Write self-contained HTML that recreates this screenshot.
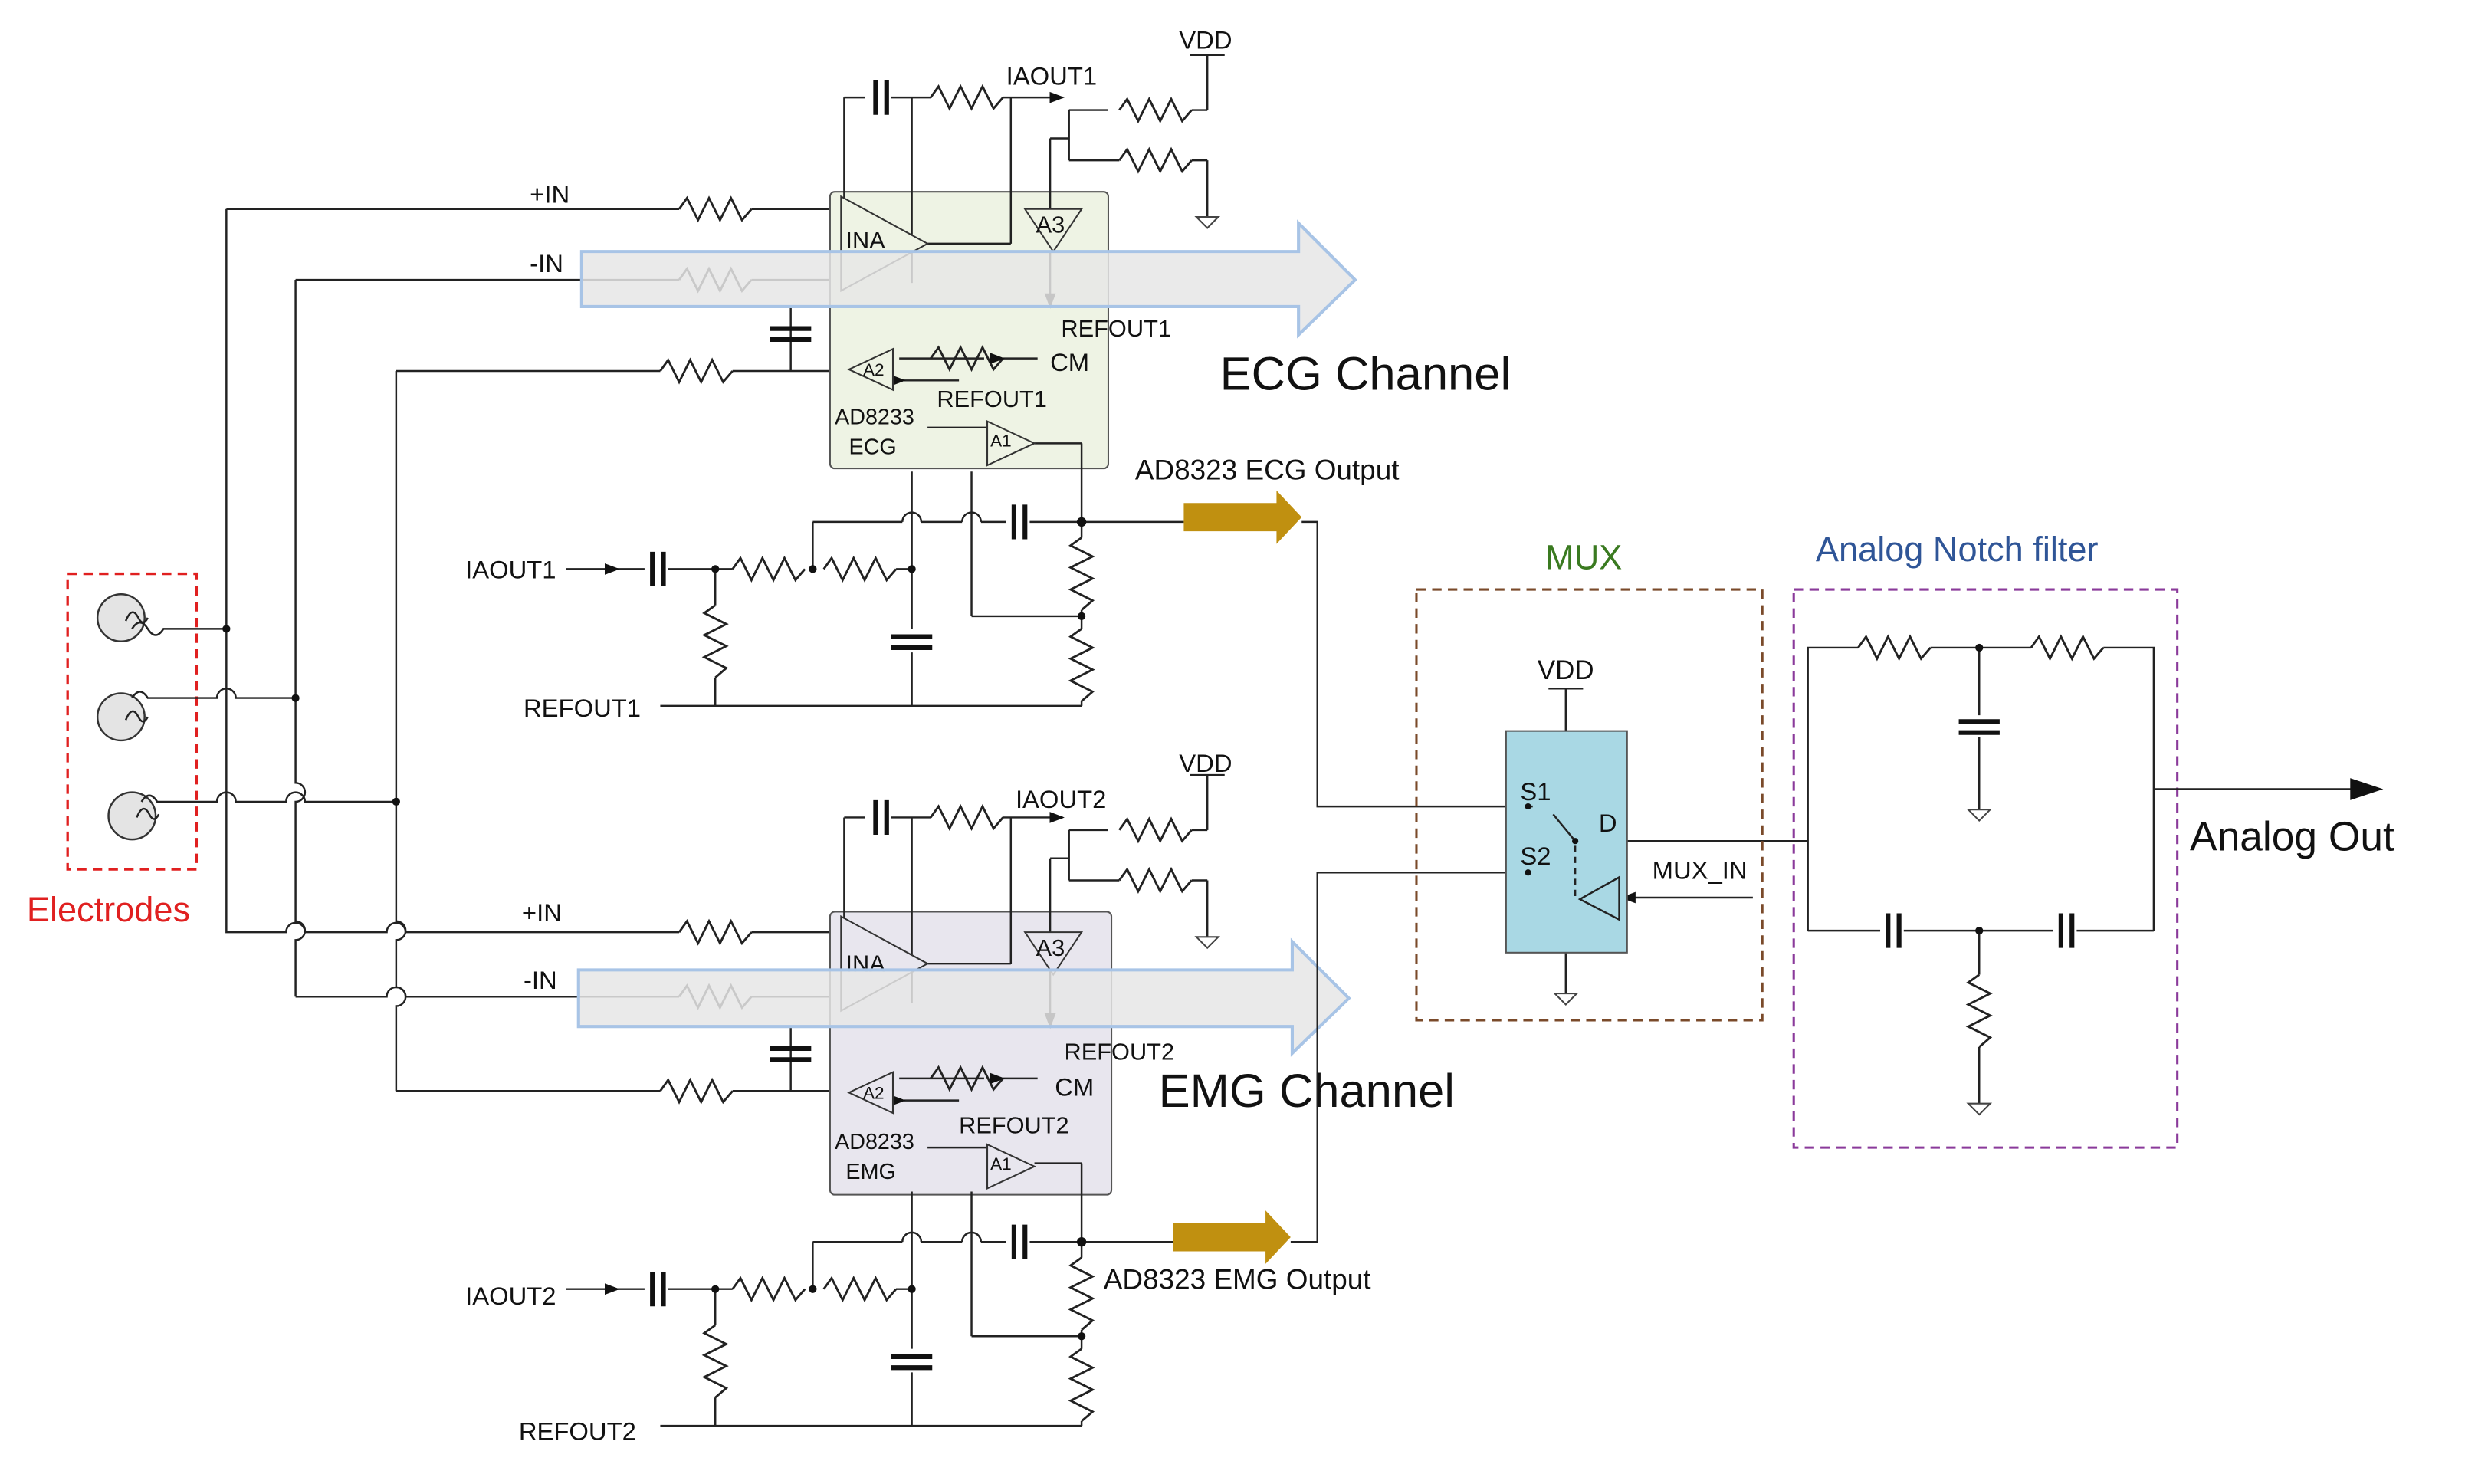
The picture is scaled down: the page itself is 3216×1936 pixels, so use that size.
<!DOCTYPE html>
<html><head><meta charset="utf-8"><style>
html,body{margin:0;padding:0;background:#fff;}
svg{display:block;}
text{font-family:"Liberation Sans",Arial,sans-serif;fill:#111;}
</style></head><body>
<svg width="3216" height="1936" viewBox="0 0 1568 944" preserveAspectRatio="none" xmlns="http://www.w3.org/2000/svg">
<defs>
<path id="rh" d="M0,0 l5,-7 l7,14 l7,-14 l7,14 l7,-14 l7,14 l6,-7" fill="none" stroke="#222" stroke-width="1.4"/>
<path id="rv" d="M0,0 l-7,5 l14,7 l-14,7 l14,7 l-14,7 l14,7 l-7,6" fill="none" stroke="#222" stroke-width="1.4"/>
<g id="ch"><line x1="-3" y1="-11" x2="-3" y2="11" stroke="#111" stroke-width="3"/><line x1="4" y1="-11" x2="4" y2="11" stroke="#111" stroke-width="3"/></g>
<g id="cv"><line x1="-13" y1="-3" x2="13" y2="-3" stroke="#111" stroke-width="3"/><line x1="-13" y1="4" x2="13" y2="4" stroke="#111" stroke-width="3"/></g>
<path id="gnd" d="M-7,0 h14 l-7,7 z" fill="#fff" stroke="#444" stroke-width="1"/>
<marker id="ar" markerWidth="8" markerHeight="8" refX="7" refY="4" orient="auto"><path d="M0,1 L8,4 L0,7 z" fill="#111"/></marker>
<g id="ecgc" stroke="#222" stroke-width="1.2" fill="none">
 <line x1="537" y1="62" x2="550" y2="62"/><use href="#ch" x="560" y="62"/><line x1="567" y1="62" x2="592" y2="62"/><use href="#rh" x="592" y="62"/><line x1="638" y1="62" x2="676" y2="62" marker-end="url(#ar)"/>
 <line x1="537" y1="62" x2="537" y2="132"/><line x1="580" y1="62" x2="580" y2="180"/>
 <line x1="590" y1="155" x2="643" y2="155"/><line x1="643" y1="155" x2="643" y2="62"/>
 <line x1="680" y1="70" x2="705" y2="70"/><use href="#rh" x="712" y="70"/><line x1="758" y1="70" x2="768" y2="70"/>
 <line x1="768" y1="35" x2="768" y2="70"/><line x1="757" y1="35" x2="779" y2="35"/>
 <line x1="680" y1="70" x2="680" y2="102"/><line x1="680" y1="102" x2="712" y2="102"/><use href="#rh" x="712" y="102"/><line x1="758" y1="102" x2="768" y2="102"/><line x1="768" y1="102" x2="768" y2="138"/>
 <line x1="668" y1="88" x2="680" y2="88"/><line x1="668" y1="88" x2="668" y2="135"/>
 <line x1="668" y1="160" x2="668" y2="195" marker-end="url(#ar)"/>
 <line x1="592" y1="228" x2="626" y2="228"/><use href="#rh" x="592" y="228"/><line x1="638" y1="228" x2="660" y2="228" marker-start="url(#ar)"/>
 <line x1="572" y1="228" x2="592" y2="228"/>
 <line x1="575" y1="242" x2="610" y2="242" marker-start="url(#ar)"/>
 <line x1="503" y1="195" x2="580" y2="195"/><line x1="503" y1="195" x2="503" y2="236"/><use href="#cv" x="503" y="212"/>
 <line x1="590" y1="272" x2="628" y2="272"/><line x1="658" y1="282" x2="688" y2="282"/><line x1="688" y1="282" x2="688" y2="332"/>
 <line x1="393" y1="362" x2="410" y2="362" marker-start="url(#ar)"/>
 <line x1="360" y1="362" x2="393" y2="362" marker-end="url(#ar)"/>
 <use href="#ch" x="418" y="362"/><line x1="425" y1="362" x2="466" y2="362"/>
 <use href="#rh" x="466" y="362"/><use href="#rh" x="524" y="362"/><line x1="570" y1="362" x2="580" y2="362"/>
 <line x1="455" y1="362" x2="455" y2="385"/><use href="#rv" x="455" y="385"/><line x1="455" y1="431" x2="455" y2="449"/>
 <line x1="517" y1="362" x2="517" y2="332"/><line x1="517" y1="332" x2="574" y2="332"/><path d="M574,332 a6,6 0 0 1 12,0"/><line x1="586" y1="332" x2="612" y2="332"/><path d="M612,332 a6,6 0 0 1 12,0"/><line x1="624" y1="332" x2="640" y2="332"/><use href="#ch" x="648" y="332"/><line x1="655" y1="332" x2="753" y2="332"/>
 <line x1="580" y1="300" x2="580" y2="400"/><use href="#cv" x="580" y="408"/><line x1="580" y1="415" x2="580" y2="449"/>
 <line x1="618" y1="300" x2="618" y2="392"/><line x1="618" y1="392" x2="688" y2="392"/>
 <line x1="688" y1="332" x2="688" y2="342"/><use href="#rv" x="688" y="342"/><line x1="688" y1="388" x2="688" y2="400"/><use href="#rv" x="688" y="400"/><line x1="688" y1="446" x2="688" y2="449"/>
 <line x1="420" y1="449" x2="688" y2="449"/>
</g>
</defs>

<rect x="43" y="365" width="82" height="188" fill="none" stroke="#e02020" stroke-width="1.6" stroke-dasharray="6,4"/>
<g stroke="#333" stroke-width="1.2" fill="#e4e4e4">
<circle cx="77" cy="393" r="15"/><circle cx="77" cy="456" r="15"/><circle cx="84" cy="519" r="15"/>
</g>
<g stroke="#222" stroke-width="1.2" fill="none">
<path d="M80,395 q4,-10 8,-2 q3,6 6,0"/><path d="M80,458 q4,-10 8,-2 q3,6 6,0"/><path d="M87,520 q4,-10 8,-2 q3,6 6,0"/>
<path d="M84,400 q5,-8 10,0 t10,0 h40"/>
<path d="M84,444 q5,-8 10,0 h44 a6,6 0 0 1 12,0 h38"/>
<path d="M90,510 q5,-8 10,0 h38 a6,6 0 0 1 12,0 h32 a6,6 0 0 1 12,0 h58"/>
<line x1="144" y1="133" x2="144" y2="580"/>
<path d="M188,178 V498 a6,6 0 0 1 0,12 V586 a6,6 0 0 1 0,12 V634"/>
<path d="M252,236 V586 a6,6 0 0 1 0,12 V628 a6,6 0 0 1 0,12 V694"/>
<line x1="144" y1="133" x2="432" y2="133"/><use href="#rh" x="432" y="133"/><line x1="478" y1="133" x2="536" y2="133"/>
<line x1="188" y1="178" x2="432" y2="178"/><use href="#rh" x="432" y="178"/><line x1="478" y1="178" x2="536" y2="178"/>
<line x1="252" y1="236" x2="420" y2="236"/><use href="#rh" x="420" y="236"/><line x1="466" y1="236" x2="540" y2="236"/>
<path d="M144,580 V593 H182 a6,6 0 0 1 12,0 H246 a6,6 0 0 1 12,0 H432"/><use href="#rh" x="432" y="593"/><line x1="478" y1="593" x2="536" y2="593"/>
<path d="M188,634 H246 a6,6 0 0 1 12,0 H432"/><use href="#rh" x="432" y="634"/><line x1="478" y1="634" x2="536" y2="634"/>
<line x1="252" y1="694" x2="420" y2="694"/><use href="#rh" x="420" y="694"/><line x1="466" y1="694" x2="540" y2="694"/>
</g>
<g fill="#111"><circle cx="144" cy="400" r="2.5"/><circle cx="188" cy="444" r="2.5"/><circle cx="252" cy="510" r="2.5"/></g>
<text x="17" y="586" font-size="22" style="fill:#e02020">Electrodes</text>

<rect x="528" y="122" width="177" height="176" rx="3" fill="#eef3e4" stroke="#555" stroke-width="1"/>
<use href="#ecgc"/>
<g stroke="#333" stroke-width="1" fill="#eef3e4">
<path d="M535,125 L590,155 L535,185 z"/>
<path d="M652,133 L688,133 L670,160 z"/>
<path d="M568,222 L568,248 L540,235 z"/>
<path d="M628,268 L658,282 L628,296 z"/>
</g>
<g font-size="15"><text x="538" y="158">INA</text><text x="659" y="148">A3</text><text x="549" y="239" font-size="11">A2</text><text x="630" y="284" font-size="11">A1</text>
<text x="531" y="270" font-size="14">AD8233</text><text x="540" y="289" font-size="14">ECG</text>
<text x="640" y="54" font-size="16">IAOUT1</text><text x="750" y="31" font-size="16">VDD</text>
<text x="337" y="129" font-size="16">+IN</text><text x="337" y="173" font-size="16">-IN</text>
<text x="675" y="214" font-size="15">REFOUT1</text><text x="668" y="236" font-size="16">CM</text><text x="596" y="259" font-size="15">REFOUT1</text>
<text x="296" y="368" font-size="16">IAOUT1</text><text x="333" y="456" font-size="16">REFOUT1</text>
<text x="722" y="305" font-size="18">AD8323 ECG Output</text></g>
<use href="#gnd" x="768" y="138"/>

<rect x="528" y="580" width="179" height="180" rx="3" fill="#e8e6ee" stroke="#555" stroke-width="1"/>
<use href="#ecgc" y="458"/>
<g stroke="#333" stroke-width="1" fill="#e8e6ee">
<path d="M535,583 L590,613 L535,643 z"/>
<path d="M652,593 L688,593 L670,620 z"/>
<path d="M568,682 L568,708 L540,695 z"/>
<path d="M628,728 L658,742 L628,756 z"/>
</g>
<g font-size="15"><text x="538" y="618">INA</text><text x="659" y="608">A3</text><text x="549" y="699" font-size="11">A2</text><text x="630" y="744" font-size="11">A1</text>
<text x="531" y="731" font-size="14">AD8233</text><text x="538" y="750" font-size="14">EMG</text>
<text x="646" y="514" font-size="16">IAOUT2</text><text x="750" y="491" font-size="16">VDD</text>
<text x="332" y="586" font-size="16">+IN</text><text x="333" y="629" font-size="16">-IN</text>
<text x="677" y="674" font-size="15">REFOUT2</text><text x="671" y="697" font-size="16">CM</text><text x="610" y="721" font-size="15">REFOUT2</text>
<text x="296" y="830" font-size="16">IAOUT2</text><text x="330" y="916" font-size="16">REFOUT2</text>
<text x="702" y="820" font-size="18">AD8323 EMG Output</text></g>
<use href="#gnd" x="768" y="596"/>

<path d="M370,160 H826 V142 L862,178 L826,213 V195 H370 z" fill="#e6e6e6" fill-opacity="0.85" stroke="#a8c4e6" stroke-width="2"/>
<path d="M368,617 H822 V599 L858,635 L822,670 V653 H368 z" fill="#e6e6e6" fill-opacity="0.85" stroke="#a8c4e6" stroke-width="2"/>
<text x="776" y="248" font-size="30">ECG Channel</text>
<text x="737" y="704" font-size="30">EMG Channel</text>

<path d="M753,320 H812 V312 L828,329 L812,346 V338 H753 z" fill="#c09010"/>
<path d="M746,778 H805 V770 L821,787 L805,804 V796 H746 z" fill="#c09010"/>

<g stroke="#222" stroke-width="1.2" fill="none">
<path d="M828,332 H838 V513 H972"/>
<path d="M821,790 H838 V555 H972"/>
<line x1="996" y1="438" x2="996" y2="465"/><line x1="985" y1="438" x2="1007" y2="438"/>
<line x1="996" y1="606" x2="996" y2="632"/>
<line x1="1002" y1="535" x2="1150" y2="535"/>
<line x1="1115" y1="571" x2="1032" y2="571" marker-end="url(#ar)"/>
</g>
<rect x="901" y="375" width="220" height="274" fill="none" stroke="#7a4a2a" stroke-width="1.5" stroke-dasharray="6,4"/>
<text x="983" y="362" font-size="22" style="fill:#3a7a20">MUX</text>
<rect x="958" y="465" width="77" height="141" fill="#a9d8e4" stroke="#555" stroke-width="1"/>
<g stroke="#222" stroke-width="1.2" fill="none">
<line x1="972" y1="513" x2="975" y2="513"/><line x1="988" y1="518" x2="1002" y2="535"/>
<line x1="1002" y1="538" x2="1002" y2="572" stroke-dasharray="4,3"/>
<path d="M1030,558 L1030,585 L1005,572 z" fill="#a9d8e4"/>
</g>
<g fill="#111"><circle cx="972" cy="513" r="2"/><circle cx="972" cy="555" r="2"/><circle cx="1002" cy="535" r="2"/></g>
<use href="#gnd" x="996" y="632"/>
<text x="978" y="432" font-size="17">VDD</text><text x="967" y="509" font-size="16">S1</text><text x="967" y="550" font-size="16">S2</text><text x="1017" y="529" font-size="16">D</text>
<text x="1051" y="559" font-size="16">MUX_IN</text>

<rect x="1141" y="375" width="244" height="355" fill="none" stroke="#8a3a9a" stroke-width="1.5" stroke-dasharray="6,4"/>
<text x="1155" y="357" font-size="22" style="fill:#2f5597">Analog Notch filter</text>
<g stroke="#222" stroke-width="1.2" fill="none">
<path d="M1150,592 V412 H1182"/><use href="#rh" x="1182" y="412"/><line x1="1228" y1="412" x2="1292" y2="412"/><use href="#rh" x="1292" y="412"/><path d="M1338,412 H1370 V592"/>
<line x1="1259" y1="412" x2="1259" y2="455"/><use href="#cv" x="1259" y="462"/><line x1="1259" y1="469" x2="1259" y2="515"/>
<line x1="1150" y1="592" x2="1196" y2="592"/><use href="#ch" x="1204" y="592"/><line x1="1211" y1="592" x2="1306" y2="592"/><use href="#ch" x="1314" y="592"/><line x1="1321" y1="592" x2="1370" y2="592"/>
<line x1="1259" y1="592" x2="1259" y2="620"/><use href="#rv" x="1259" y="620"/><line x1="1259" y1="666" x2="1259" y2="702"/>
<line x1="1370" y1="502" x2="1500" y2="502"/>
</g>
<path d="M1495,495 L1516,502 L1495,509 z" fill="#111"/>
<g fill="#111"><circle cx="1259" cy="412" r="2.5"/><circle cx="1259" cy="592" r="2.5"/></g>
<use href="#gnd" x="1259" y="515"/><use href="#gnd" x="1259" y="702"/>
<text x="1393" y="541" font-size="26">Analog Out</text>
<g fill="#111"><circle cx="455" cy="362" r="2.5"/><circle cx="517" cy="362" r="2.5"/><circle cx="580" cy="362" r="2.5"/><circle cx="688" cy="332" r="3"/><circle cx="688" cy="392" r="2.5"/>
<circle cx="455" cy="820" r="2.5"/><circle cx="517" cy="820" r="2.5"/><circle cx="580" cy="820" r="2.5"/><circle cx="688" cy="790" r="3"/><circle cx="688" cy="850" r="2.5"/></g>
</svg>
</body></html>
